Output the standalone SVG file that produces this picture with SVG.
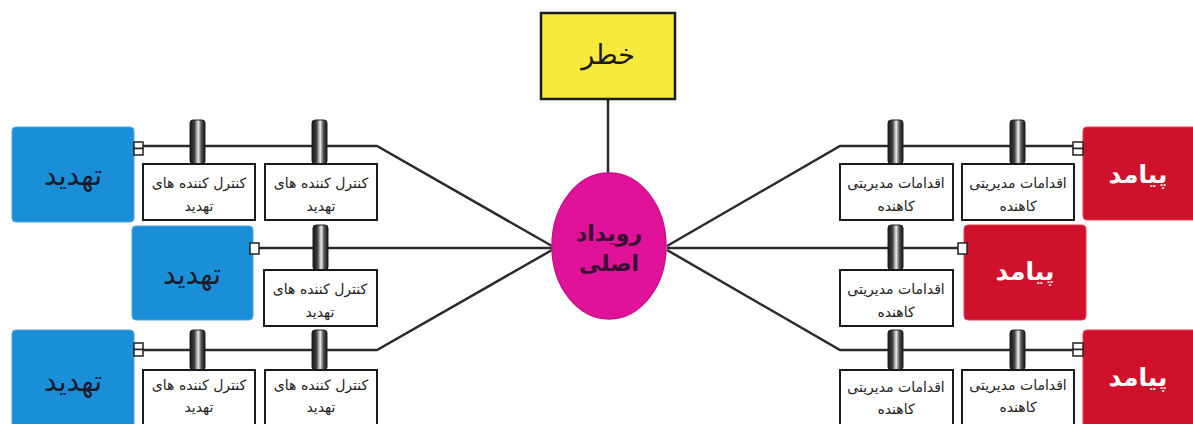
<svg xmlns="http://www.w3.org/2000/svg" width="1193" height="424" viewBox="0 0 1193 424">
<defs>
<linearGradient id="bar" x1="0" y1="0" x2="1" y2="0">
<stop offset="0" stop-color="#111"/>
<stop offset="0.3" stop-color="#444"/>
<stop offset="0.55" stop-color="#eee"/>
<stop offset="0.75" stop-color="#555"/>
<stop offset="1" stop-color="#111"/>
</linearGradient>
</defs>
<style>
.ln{stroke:#2b2b2b;stroke-width:2.5;fill:none}
.bar{fill:url(#bar);stroke:#222;stroke-width:1}
.box{fill:#fff;stroke:#1a1a1a;stroke-width:2}
.thr{fill:#1a8fd8;stroke:#4aa6e0;stroke-width:1}
.con{fill:#d0112b;stroke:#e0404f;stroke-width:1}
.sq{fill:#fff;stroke:#222;stroke-width:1.5}
.t{font-family:"DejaVu Sans",sans-serif;text-anchor:middle}
.small{font-size:14px;fill:#222}
.thrT{font-size:28px;fill:#1a1a2a}
.conT{font-size:25px;fill:#fff;font-weight:bold}
</style>
<rect width="1193" height="424" fill="#fff"/>

<g id="connectors">
<line class="ln" x1="608" y1="99" x2="608" y2="174"/>
<polyline class="ln" points="143,146 377,146 552,246"/>
<polyline class="ln" points="259,248 552,248"/>
<polyline class="ln" points="143,350 377,350 552,250"/>
<polyline class="ln" points="1073,146 840,146 667,246"/>
<polyline class="ln" points="958,248 667,248"/>
<polyline class="ln" points="1073,350 840,350 667,250"/>
</g>

<g id="risk">
<rect x="541" y="13" width="134" height="86" fill="#f8ea3c" stroke="#1a1a1a" stroke-width="2.5"/>
<text class="t" x="608" y="64" font-size="27" fill="#1a1a1a">خطر</text>
</g>

<g id="event">
<ellipse cx="609" cy="246" rx="57" ry="73" fill="#e0129a" stroke="#c8108a" stroke-width="1.5"/>
<text class="t" x="609" y="241" font-size="22" font-weight="bold" fill="#3a1030">رویداد</text>
<text class="t" x="609" y="271" font-size="22" font-weight="bold" fill="#3a1030">اصلی</text>
</g>

<g id="threat1">
<rect class="thr" x="12" y="127" width="122" height="95" rx="4"/>
<text class="t thrT" x="73" y="185">تهدید</text>
<rect class="sq" x="134" y="142" width="9" height="6.5"/>
<rect class="sq" x="134" y="148.5" width="9" height="6.5"/>
</g>
<g id="threat2">
<rect class="thr" x="132" y="226" width="121" height="94" rx="4"/>
<text class="t thrT" x="192" y="284">تهدید</text>
<rect class="sq" x="250" y="243" width="9" height="11"/>
</g>
<g id="threat3">
<rect class="thr" x="12" y="330" width="122" height="100" rx="4"/>
<text class="t thrT" x="73" y="391">تهدید</text>
<rect class="sq" x="134" y="343" width="9" height="6.5"/>
<rect class="sq" x="134" y="349.5" width="9" height="6.5"/>
</g>

<g id="control1a">
<rect class="bar" x="190" y="120" width="15" height="44" rx="3"/>
<rect class="box" x="143" y="164" width="112" height="56"/>
<text class="t small" x="199" y="188">کنترل کننده  های</text>
<text class="t small" x="199" y="211">تهدید</text>
</g>
<g id="control1b">
<rect class="bar" x="312" y="120" width="15" height="44" rx="3"/>
<rect class="box" x="265" y="164" width="112" height="56"/>
<text class="t small" x="321" y="188">کنترل کننده  های</text>
<text class="t small" x="321" y="211">تهدید</text>
</g>
<g id="control2">
<rect class="bar" x="313" y="225" width="15" height="45" rx="3"/>
<rect class="box" x="264" y="270" width="113" height="56"/>
<text class="t small" x="320" y="294">کنترل کننده  های</text>
<text class="t small" x="320" y="317">تهدید</text>
</g>
<g id="control3a">
<rect class="bar" x="190" y="330" width="15" height="40" rx="3"/>
<rect class="box" x="143" y="370" width="112" height="60"/>
<text class="t small" x="199" y="390">کنترل کننده  های</text>
<text class="t small" x="199" y="412">تهدید</text>
</g>
<g id="control3b">
<rect class="bar" x="312" y="330" width="15" height="40" rx="3"/>
<rect class="box" x="265" y="370" width="112" height="60"/>
<text class="t small" x="321" y="390">کنترل کننده  های</text>
<text class="t small" x="321" y="412">تهدید</text>
</g>

<g id="consequence1">
<rect class="con" x="1083" y="127" width="116" height="93" rx="4"/>
<text class="t conT" x="1138" y="183">پیامد</text>
<rect class="sq" x="1073" y="142" width="10" height="6.5"/>
<rect class="sq" x="1073" y="148.5" width="10" height="6.5"/>
</g>
<g id="consequence2">
<rect class="con" x="964" y="225" width="122" height="95" rx="4"/>
<text class="t conT" x="1025" y="280">پیامد</text>
<rect class="sq" x="958" y="243" width="9" height="11"/>
</g>
<g id="consequence3">
<rect class="con" x="1083" y="330" width="116" height="100" rx="4"/>
<text class="t conT" x="1138" y="386">پیامد</text>
<rect class="sq" x="1073" y="343" width="10" height="6.5"/>
<rect class="sq" x="1073" y="349.5" width="10" height="6.5"/>
</g>

<g id="action1a">
<rect class="bar" x="888" y="120" width="15" height="44" rx="3"/>
<rect class="box" x="840" y="164" width="113" height="56"/>
<text class="t small" x="896" y="188">اقدامات مدیریتی</text>
<text class="t small" x="896" y="211">کاهنده</text>
</g>
<g id="action1b">
<rect class="bar" x="1010" y="120" width="15" height="44" rx="3"/>
<rect class="box" x="962" y="164" width="112" height="56"/>
<text class="t small" x="1018" y="188">اقدامات مدیریتی</text>
<text class="t small" x="1018" y="211">کاهنده</text>
</g>
<g id="action2">
<rect class="bar" x="888" y="225" width="15" height="45" rx="3"/>
<rect class="box" x="840" y="270" width="113" height="56"/>
<text class="t small" x="896" y="294">اقدامات مدیریتی</text>
<text class="t small" x="896" y="317">کاهنده</text>
</g>
<g id="action3a">
<rect class="bar" x="888" y="330" width="15" height="40" rx="3"/>
<rect class="box" x="840" y="370" width="113" height="60"/>
<text class="t small" x="896" y="392">اقدامات مدیریتی</text>
<text class="t small" x="896" y="414">کاهنده</text>
</g>
<g id="action3b">
<rect class="bar" x="1010" y="330" width="15" height="40" rx="3"/>
<rect class="box" x="962" y="370" width="112" height="60"/>
<text class="t small" x="1018" y="390">اقدامات مدیریتی</text>
<text class="t small" x="1018" y="412">کاهنده</text>
</g>
</svg>
